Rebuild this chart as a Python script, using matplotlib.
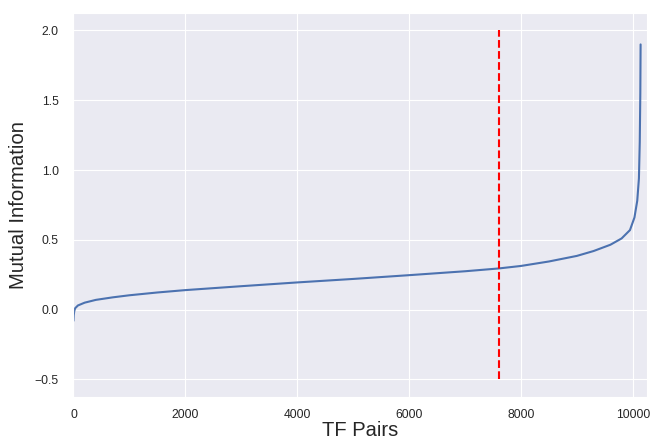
import matplotlib
matplotlib.use("Agg")
import matplotlib.pyplot as plt
import seaborn as sns

# Sorted mutual information values by pair rank
rank = [0, 5, 15, 30, 80, 200, 400, 700, 1000, 1500, 2000, 3000, 4000,
        5000, 6000, 7000, 7600, 8000, 8500, 9000, 9300, 9600, 9800, 9950,
        10030, 10080, 10110, 10125, 10135, 10140]
mutual_info = [-0.08, -0.04, -0.01, 0.01, 0.03, 0.05, 0.07, 0.088, 0.103,
               0.123, 0.14, 0.168, 0.195, 0.22, 0.247, 0.275, 0.295, 0.313,
               0.345, 0.385, 0.42, 0.465, 0.51, 0.57, 0.66, 0.78, 0.94,
               1.2, 1.55, 1.9]

# Cutoff marker
cutoff_rank = 7610
cutoff_span = (-0.5, 2.0)

sns.set_style("darkgrid")
plt.rcParams["font.family"] = ["Liberation Sans", "DejaVu Sans"]

fig = plt.figure(figsize=(6.5, 4.41), dpi=100)
ax = fig.add_axes([0.113, 0.100, 0.882, 0.8705])

ax.plot(rank, mutual_info, color="#4C72B0", linewidth=1.5)
ax.vlines(cutoff_rank, cutoff_span[0], cutoff_span[1], colors="red",
          linestyles="dashed", linewidth=1.5)

ax.set_xlim(0, 10250)
ax.set_ylim(-0.625, 2.125)
ax.set_xticks([0, 2000, 4000, 6000, 8000, 10000])
ax.set_yticks([-0.5, 0.0, 0.5, 1.0, 1.5, 2.0])
ax.tick_params(axis="x", labelsize=8.7, colors=".15", pad=5.5)
ax.tick_params(axis="y", labelsize=8.7, colors=".15", pad=7)

ax.set_xlabel("TF Pairs", fontsize=14.5, color=".15", labelpad=0)
ax.set_ylabel("Mutual Information", fontsize=14.6, color=".15", labelpad=5)

fig.savefig("out.png", dpi=100)
